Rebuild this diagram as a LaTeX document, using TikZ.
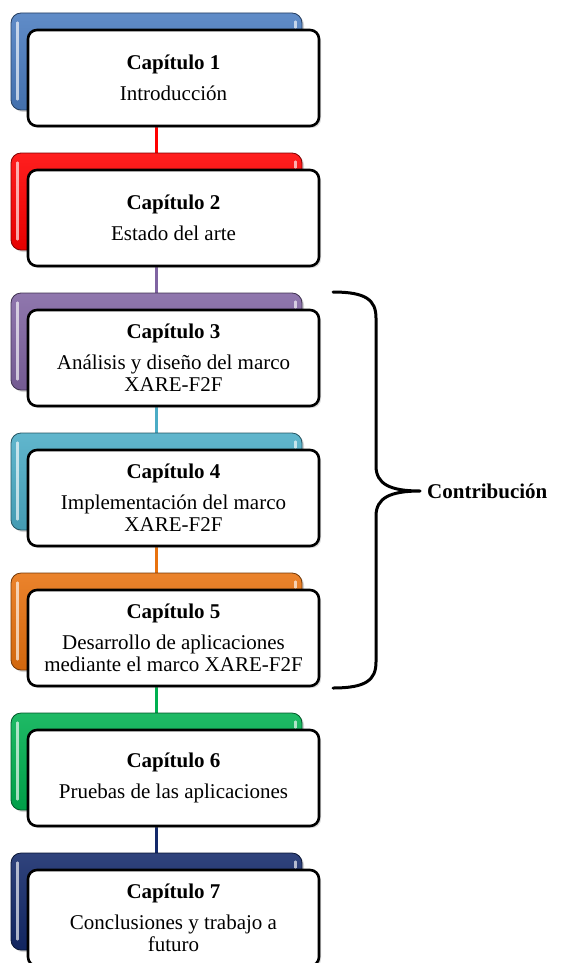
\documentclass[tikz,border=0pt]{standalone}
\usepackage{fontspec}
\setmainfont{Liberation Serif}
\usetikzlibrary{shadows,backgrounds}
\definecolor{cblue}{HTML}{4A7CC0}
\definecolor{cred}{HTML}{FF0000}
\definecolor{cpurple}{HTML}{8064A2}
\definecolor{ccyan}{HTML}{4BACC6}
\definecolor{corange}{HTML}{E8720F}
\definecolor{cgreen}{HTML}{00B050}
\definecolor{cnavy}{HTML}{13296A}
\begin{document}
\begin{tikzpicture}[x=1pt,y=-1pt,
  backcard/.style={draw=#1!50!black, line width=0.8pt, rounded corners=10pt,
    minimum width=291pt, minimum height=97pt, inner sep=0pt,
    top color=#1!88!white, bottom color=#1!90!black,
    drop shadow={shadow xshift=2pt, shadow yshift=-2pt, opacity=0.35}},
  frontcard/.style={draw=black, line width=2.6pt, rounded corners=9pt, fill=white,
    minimum width=291pt, minimum height=96pt, inner sep=2pt, align=center,
    font={\fontsize{21}{22}\selectfont},
    drop shadow={shadow xshift=2pt, shadow yshift=-2pt, opacity=0.3}},
  gloss/.style={white, opacity=0.65, line width=2.5pt, line cap=round},
  link/.style={line width=3pt, #1},
  bracepath/.style={line width=3pt, line cap=round, line join=round}]
\useasboundingbox (0,0) rectangle (560,963);

% coloured tabs behind the chapter labels
\node[backcard=cblue]   (b1) at (156.5,61.5) {};
\node[backcard=cred]    (b2) at (156.5,201.5) {};
\node[backcard=cpurple] (b3) at (156.5,341.5) {};
\node[backcard=ccyan]   (b4) at (156.5,481.5) {};
\node[backcard=corange] (b5) at (156.5,621.5) {};
\node[backcard=cgreen]  (b6) at (156.5,761.5) {};
\node[backcard=cnavy]   (b7) at (156.5,901.5) {};

% glossy highlights on the tabs
\foreach \b in {b1,b2,b3,b4,b5,b6,b7}{
  \draw[gloss] ([xshift=7pt,yshift=-10pt]\b.north west) -- ([xshift=7pt,yshift=11pt]\b.south west);
  \draw[gloss] ([xshift=-7pt,yshift=-9pt]\b.north east) -- ([xshift=-7pt,yshift=-15pt]\b.north east);
}

% white chapter labels
\node[frontcard] (f1) at (173.5,78)  {\textbf{Capítulo 1}\\[9pt]Introducción};
\node[frontcard] (f2) at (173.5,218) {\textbf{Capítulo 2}\\[9pt]Estado del arte};
\node[frontcard] (f3) at (173.5,358) {\textbf{Capítulo 3}\\[9pt]Análisis y diseño del marco\\XARE-F2F};
\node[frontcard] (f4) at (173.5,498) {\textbf{Capítulo 4}\\[9pt]Implementación del marco\\XARE-F2F};
\node[frontcard] (f5) at (173.5,638) {\textbf{Capítulo 5}\\[9pt]Desarrollo de aplicaciones\\mediante el marco XARE-F2F};
\node[frontcard] (f6) at (173.5,778) {\textbf{Capítulo 6}\\[9pt]Pruebas de las aplicaciones};
\node[frontcard] (f7) at (173.5,918) {\textbf{Capítulo 7}\\[9pt]Conclusiones y trabajo a\\futuro};

% links between consecutive chapters
\begin{scope}[on background layer]
\draw[link=cred]    (b2.north) -- (b2.north |- f1.south);
\draw[link=cpurple] (b3.north) -- (b3.north |- f2.south);
\draw[link=ccyan]   (b4.north) -- (b4.north |- f3.south);
\draw[link=corange] (b5.north) -- (b5.north |- f4.south);
\draw[link=cgreen]  (b6.north) -- (b6.north |- f5.south);
\draw[link=cnavy]   (b7.north) -- (b7.north |- f6.south);
\end{scope}

% brace grouping chapters 3 to 5
\coordinate (brtop) at (333,292);
\coordinate (brtip) at (420,491);
\coordinate (brbot) at (333,688);
\draw[bracepath] (brtop) .. controls (366,292) and (376,300) .. (376,318)
  -- (376,466) .. controls (376,484) and (390,491) .. (brtip)
  .. controls (390,491) and (376,498) .. (376,516)
  -- (376,662) .. controls (376,680) and (366,688) .. (brbot);
\node[anchor=base west, inner sep=0pt, font={\fontsize{21}{22}\selectfont\bfseries}] (contrib) at (427,498) {Contribución};
\end{tikzpicture}
\end{document}
